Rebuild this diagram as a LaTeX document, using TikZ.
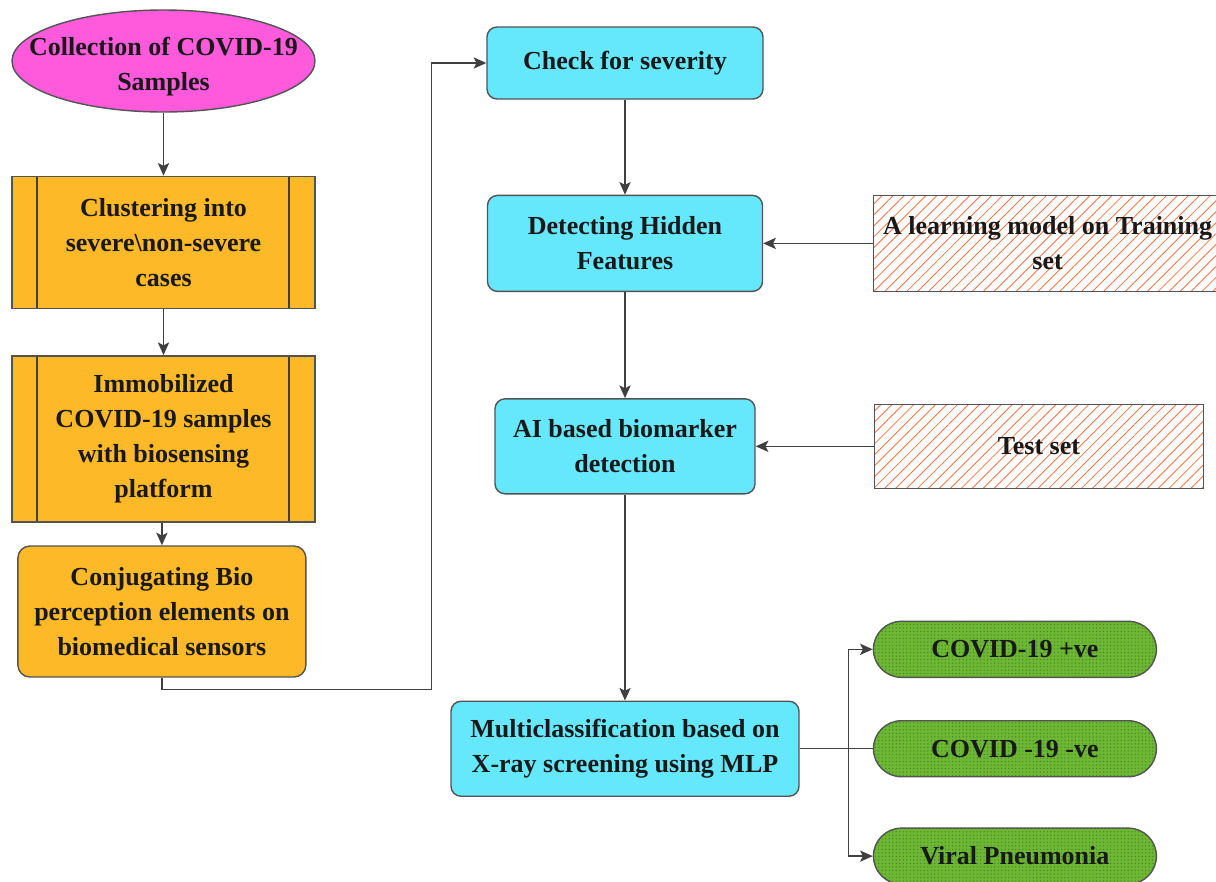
\documentclass[tikz,border=0pt]{standalone}
\usepackage{fontspec}
\setmainfont{Liberation Serif}
\usetikzlibrary{positioning, arrows.meta, shapes.geometric, patterns.meta}
\definecolor{pinkfill}{RGB}{255,90,220}
\definecolor{orangefill}{RGB}{253,185,39}
\definecolor{cyanfill}{RGB}{102,232,252}
\definecolor{grassfill}{RGB}{108,184,52}
\definecolor{hatchline}{RGB}{245,115,70}
\definecolor{edgegray}{RGB}{64,64,64}
\tikzset{
>={Stealth[length=9pt, width=8pt, inset=2pt]}, % filled arrow heads
every node/.style={font=\fontsize{18.5}{24.8}\selectfont\bfseries, text=black!90, align=center, inner sep=2pt}, % bold serif labels
box/.style={draw=edgegray!90, line width=1pt}, % common outline
start/.style={box, ellipse, fill=pinkfill, minimum width=7.575cm, minimum height=2.55cm, inner sep=0pt},
process/.style={box, rectangle, fill=orangefill, minimum width=7.575cm,
  path picture={\draw[edgegray, line width=1pt]
    ([xshift=0.625cm]path picture bounding box.north west) -- ([xshift=0.625cm]path picture bounding box.south west)
    ([xshift=-0.65cm]path picture bounding box.north east) -- ([xshift=-0.65cm]path picture bounding box.south east);}}, % box with side bars
roundbox/.style={box, rectangle, rounded corners=0.3cm, fill=orangefill},
stepbox/.style={box, rectangle, rounded corners=0.25cm, fill=cyanfill},
hatchbox/.style={box, rectangle, pattern={Lines[angle=45, distance=5.5pt, line width=0.6pt]}, pattern color=hatchline},
result/.style={box, rectangle, rounded corners=0.7cm, fill=grassfill, minimum width=7.075cm, minimum height=1.4cm,
  postaction={pattern={Dots[distance=2.5pt, radius=0.5pt]}, pattern color=grassfill!70!black}}, % green pill
link/.style={draw=edgegray, line width=1pt}, % connector lines
}

\begin{document}
\begin{tikzpicture}
\useasboundingbox (0,0) rectangle (30.4,-22.025);
% left column
\node[start, label={[yshift=-0.15cm]center:Collection of COVID-19\\Samples}] (collect) at (4.0875,-1.525) {};
\node[process, minimum height=3.3cm, below=1.575cm of collect] (cluster) {Clustering into\\severe\textbackslash non-severe\\cases};
\node[process, minimum height=4.15cm, below=1.15cm of cluster] (immob) {Immobilized\\COVID-19 samples\\with biosensing\\platform};
\node[roundbox, minimum width=7.2cm, minimum height=3.275cm, below=0.57cm of immob, xshift=-0.04cm] (conj) {Conjugating Bio\\perception elements on\\biomedical sensors};
% middle column
\node[stepbox, minimum width=6.9cm, minimum height=1.8cm] (check) at (15.625,-1.575) {Check for severity};
\node[stepbox, minimum width=6.875cm, minimum height=2.4cm, below=2.375cm of check] (hidden) {Detecting Hidden\\Features};
\node[stepbox, minimum width=6.5cm, minimum height=2.375cm, below=2.65cm of hidden] (biomarker) {AI based biomarker\\detection};
\node[stepbox, minimum width=8.7cm, minimum height=2.375cm, below=5.15cm of biomarker] (multi) {Multiclassification based on\\X-ray screening using MLP};
% right column
\node[hatchbox, minimum width=8.7cm, minimum height=2.4cm, right=2.75cm of hidden] (training) {A learning model on Training\\set};
\node[hatchbox, minimum width=8.225cm, minimum height=2.1cm, right=2.95cm of biomarker] (testset) {Test set};
\node[result, right=1.825cm of multi] (negative) {COVID -19 -ve};
\node[result, above=1.05cm of negative] (positive) {COVID-19 +ve};
\node[result, below=1.25cm of negative] (viral) {Viral Pneumonia};
\coordinate[right=1.225cm of multi.east] (split);
% connectors
\draw[link, ->] (collect) -- (cluster);
\draw[link, ->] (cluster) -- (immob);
\draw[link, ->] (immob.south -| conj.north) -- (conj.north);
\draw[link, ->] (conj.south) -- ++(0,-0.3) -| ([xshift=-1.375cm]check.west) -- (check.west);
\draw[link, ->] (check) -- (hidden);
\draw[link, ->] (hidden) -- (biomarker);
\draw[link, ->] (biomarker) -- (multi);
\draw[link, ->] (training) -- (hidden);
\draw[link, ->] (testset) -- (biomarker);
\draw[link] (multi.east) -- (split);
\draw[link, ->] (split) |- (positive.west);
\draw[link] (split) -- (negative.west);
\draw[link, ->] (split) |- (viral.west);
\end{tikzpicture}
\end{document}
